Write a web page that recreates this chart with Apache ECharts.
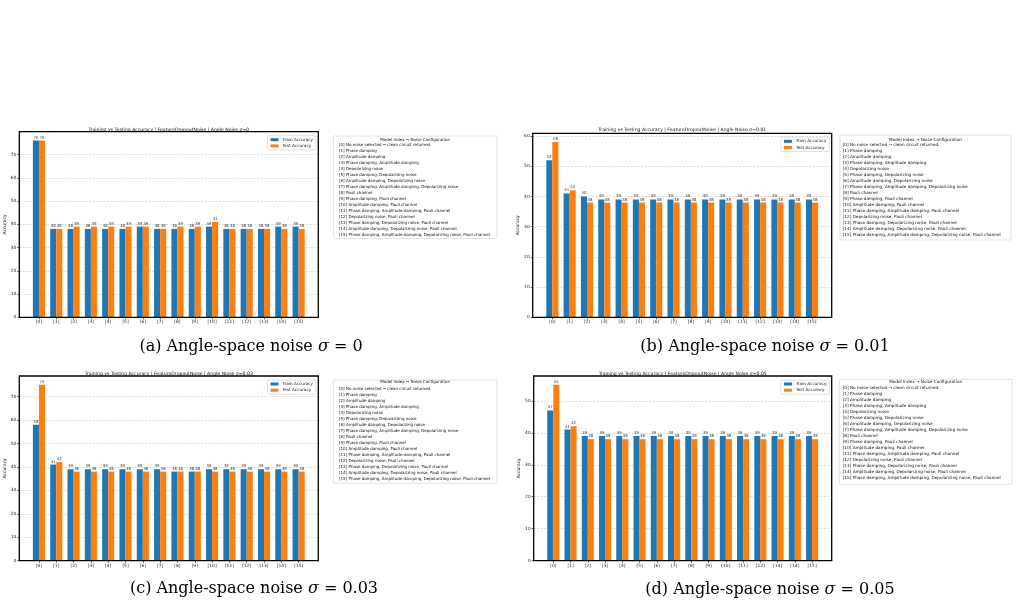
<!DOCTYPE html>
<html>
<head>
<meta charset="utf-8">
<script src="https://cdn.jsdelivr.net/npm/echarts@6/dist/echarts.min.js"></script>
<style>
html,body{margin:0;padding:0;background:#fff;}
#chart{width:1017px;height:606px;}
</style>
</head>
<body>
<div id="chart"></div>
<script>
// ---------------- data ----------------
const categories = ['[0]','[1]','[2]','[3]','[4]','[5]','[6]','[7]','[8]','[9]','[10]','[11]','[12]','[13]','[14]','[15]'];
const yTickInterval = 10;

const trainSigma0    = [76,38,38,38,38,38,39,38,38,38,39,38,38,38,39,39];
const testSigma0     = [76,38,39,39,39,39,39,38,39,39,41,38,38,38,38,38];
const trainSigma001  = [52,41,40,39,39,39,39,39,39,39,39,39,39,39,39,39];
const testSigma001   = [58,42,38,38,38,38,38,38,38,38,38,38,38,38,38,38];
const trainSigma003  = [58,41,39,39,39,39,39,39,38,38,39,39,39,39,39,39];
const testSigma003   = [75,42,38,38,38,38,38,38,38,38,38,38,38,38,38,38];
const trainSigma005  = [47,41,39,39,39,39,39,39,39,39,39,39,39,39,39,39];
const testSigma005   = [55,42,38,38,38,38,38,38,38,38,38,38,38,38,38,38];

const sigmaLabels = ['0','0.01','0.03','0.05'];
const captionLetters = ['a','b','c','d'];
const seriesNames = ['Train Accuracy','Test Accuracy'];

const noiseHeader = 'Model Index \u2192 Noise Configuration';
const noiseConfigs = [
  '[0] No noise selected \u2192 clean circuit returned.',
  '[1] Phase damping',
  '[2] Amplitude damping',
  '[3] Phase damping, Amplitude damping',
  '[4] Depolarizing noise',
  '[5] Phase damping, Depolarizing noise',
  '[6] Amplitude damping, Depolarizing noise',
  '[7] Phase damping, Amplitude damping, Depolarizing noise',
  '[8] Pauli channel',
  '[9] Phase damping, Pauli channel',
  '[10] Amplitude damping, Pauli channel',
  '[11] Phase damping, Amplitude damping, Pauli channel',
  '[12] Depolarizing noise, Pauli channel',
  '[13] Phase damping, Depolarizing noise, Pauli channel',
  '[14] Amplitude damping, Depolarizing noise, Pauli channel',
  '[15] Phase damping, Amplitude damping, Depolarizing noise, Pauli channel'
];

const panelData = [
  {train: trainSigma0,   test: testSigma0},
  {train: trainSigma001, test: testSigma001},
  {train: trainSigma003, test: testSigma003},
  {train: trainSigma005, test: testSigma005}
];

// ---------------- layout (positions only) ----------------
const W = 1017, H = 606;
const layout = [
  {L:19.3,  R:318.3, T:131.7, B:317.3, titleY:129.6, box:[333.3,136,497,238.5], textX:339,   headY:139.7, line0:145.3, fs:4.0, capX:251, capY:347},
  {L:532.7, R:831.7, T:133.3, B:317.3, titleY:129.7, box:[840,135,1011,240],   textX:842.7, headY:139.7, line0:145.2, fs:4.2, capX:765, capY:347},
  {L:19.3,  R:318.3, T:376,   B:560.7, titleY:373.3, box:[333.3,380,497,483.3], textX:339,   headY:382.3, line0:388.7, fs:4.0, capX:254, capY:589},
  {L:533.7, R:831.7, T:376,   B:560.7, titleY:373.3, box:[839.3,379.3,1012,484.3], textX:842.7, headY:382.3, line0:388.2, fs:4.2, capX:770, capY:589.5}
];

const FONT = 'DejaVu Sans';
const grids = [], xAxes = [], yAxes = [], series = [], legends = [], graphics = [];

layout.forEach((p, k) => {
  const d = panelData[k];
  const ymax = Math.max(...d.train, ...d.test) * 1.05;
  const width = p.R - p.L, height = p.B - p.T;
  // matplotlib-like x extent: centers at 0..15, limits [-1.135, 16.135]
  const unit = width / 17.27;
  const innerL = p.L + 0.635 * unit;
  const innerW = 16 * unit;

  grids.push({left: p.L, top: p.T, width: width, height: height, show: false, containLabel: false});
  grids.push({left: innerL, top: p.T, width: innerW, height: height, show: false, containLabel: false});

  xAxes.push({gridIndex: 2*k, type: 'value', min: 0, max: 1, show: false});
  xAxes.push({gridIndex: 2*k+1, type: 'category', data: categories,
    axisLine: {show: false},
    axisTick: {show: true, alignWithLabel: true, length: 2, lineStyle: {color: '#000', width: 0.6}},
    axisLabel: {fontSize: 4.4, margin: 3, color: '#222', fontFamily: FONT, interval: 0}
  });

  yAxes.push({gridIndex: 2*k, type: 'value', min: 0, max: ymax, interval: yTickInterval,
    axisLine: {show: false},
    axisTick: {show: true, length: 2, lineStyle: {color: '#000', width: 0.6}},
    axisLabel: {fontSize: 4.4, margin: 3, color: '#222', fontFamily: FONT, showMaxLabel: false},
    splitLine: {show: true, showMinLine: false, showMaxLine: false, lineStyle: {type: [2, 1.5], color: '#c4c4c4', width: 0.6}},
    name: 'Accuracy', nameLocation: 'middle', nameGap: 10,
    nameTextStyle: {fontSize: 4.4, color: '#222', fontFamily: FONT}
  });
  yAxes.push({gridIndex: 2*k+1, type: 'value', min: 0, max: ymax, show: false});

  const labelCfg = {show: true, position: 'top', distance: 1, fontSize: 3.9, color: '#333', fontFamily: FONT};
  series.push({name: seriesNames[0], type: 'bar', xAxisIndex: 2*k+1, yAxisIndex: 2*k+1,
    data: d.train, barWidth: '35%', barGap: '0%', itemStyle: {color: '#1f77b4'}, label: labelCfg, silent: true, animation: false});
  series.push({name: seriesNames[1], type: 'bar', xAxisIndex: 2*k+1, yAxisIndex: 2*k+1,
    data: d.test, barWidth: '35%', barGap: '0%', itemStyle: {color: '#ff7f0e'}, label: labelCfg, silent: true, animation: false});

  legends.push({data: seriesNames, orient: 'vertical', right: W - (p.R - 2.3), top: p.T + 4,
    itemWidth: 8, itemHeight: 3, itemGap: 2.2, icon: 'rect', selectedMode: false,
    textStyle: {fontSize: 4.2, color: '#222', fontFamily: FONT, padding: [0,0,0,-1]},
    borderColor: '#cfcfcf', borderWidth: 0.6, borderRadius: 1, padding: [2, 3, 2, 3], backgroundColor: '#fff'});

  // axes frame (spines) drawn on top
  graphics.push({type: 'rect', silent: true, z: 100, shape: {x: p.L, y: p.T, width: width, height: height},
    style: {fill: 'none', stroke: '#000', lineWidth: 1.3}});

  // title
  graphics.push({type: 'text', x: (p.L + p.R) / 2, y: p.titleY, silent: true,
    style: {text: 'Training vs Testing Accuracy | FeatureDropoutNoise | Angle Noise \u03c3=' + sigmaLabels[k],
      fontSize: 4.6, fontFamily: FONT, fill: '#111', align: 'center', verticalAlign: 'middle',
      textAlign: 'center', textVerticalAlign: 'middle'}});

  // noise configuration box
  const b = p.box;
  graphics.push({type: 'rect', silent: true, shape: {x: b[0], y: b[1], width: b[2]-b[0], height: b[3]-b[1], r: 1},
    style: {fill: '#fff', stroke: '#cfcfcf', lineWidth: 0.6}});
  graphics.push({type: 'text', x: (b[0] + b[2]) / 2, y: p.headY, silent: true,
    style: {text: noiseHeader, fontSize: p.fs, fontFamily: FONT, fill: '#111', align: 'center', verticalAlign: 'middle',
      textAlign: 'center', textVerticalAlign: 'middle'}});
  graphics.push({type: 'text', x: p.textX, y: p.line0 - 3, silent: true,
    style: {text: noiseConfigs.join('\n'), fontSize: p.fs, lineHeight: 6.0, fontFamily: FONT, fill: '#111',
      align: 'left', verticalAlign: 'top', textAlign: 'left', textVerticalAlign: 'top'}});

  // caption
  graphics.push({type: 'text', x: p.capX, y: p.capY, silent: true,
    style: {text: '(' + captionLetters[k] + ') Angle-space noise {i|\u03c3} = ' + sigmaLabels[k],
      fontSize: 16, fontFamily: 'DejaVu Serif', fill: '#000', align: 'center', verticalAlign: 'middle',
      textAlign: 'center', textVerticalAlign: 'middle',
      rich: {i: {fontStyle: 'italic', fontSize: 16, fontFamily: 'DejaVu Serif', fill: '#000'}}}});
});

const chart = echarts.init(document.getElementById('chart'), null, {renderer: 'canvas'});
chart.setOption({
  animation: false,
  backgroundColor: '#fff',
  grid: grids,
  xAxis: xAxes,
  yAxis: yAxes,
  legend: legends,
  series: series,
  graphic: {elements: graphics}
});
</script>
</body>
</html>
